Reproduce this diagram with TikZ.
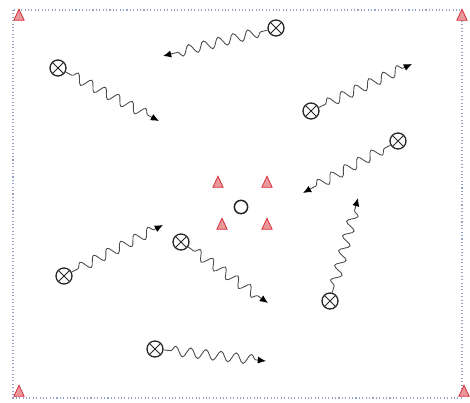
\documentclass[tikz,border=0pt]{standalone}
\usepackage{tikz}
\usetikzlibrary{arrows,arrows.meta,decorations.pathmorphing,shapes.geometric}
\usetikzlibrary{positioning}
\definecolor{conered}{RGB}{215,50,60}
\definecolor{fieldline}{RGB}{150,160,200}
\tikzstyle{player} = [circle, draw=black!85, line width=1.1pt, minimum size=0.48cm, inner sep=0pt, path picture={\draw[black!85, line width=0.8pt] (path picture bounding box.south west) -- (path picture bounding box.north east) (path picture bounding box.north west) -- (path picture bounding box.south east);}]
\tikzstyle{ball} = [circle, draw=black!85, line width=1.3pt, minimum size=0.4cm, inner sep=0pt]
\tikzstyle{cone} = [isosceles triangle, shape border rotate=90, isosceles triangle apex angle=50, draw=conered, fill=conered!50, line width=0.7pt, minimum height=0.33cm, minimum width=0.26cm, inner sep=0pt]
\tikzstyle{dribble} = [draw=black!70, line width=0.75pt, -{Latex[black,length=7pt,width=6pt]}, decorate, decoration={snake, amplitude=4.2pt, segment length=13pt, pre length=6pt, post length=7pt}]

\begin{document}
\begin{tikzpicture}[x=0.03cm, y=-0.03cm]
\useasboundingbox (0,0) rectangle (470,403);

% field
\draw[fieldline, dotted, line width=0.9pt] (13,10) rectangle (462,398);
\node (c1) [cone] at (19,17) {};
\node (c2) [cone] at (462,17) {};
\node (c3) [cone] at (19,393) {};
\node (c4) [cone] at (464,393) {};

% centre
\node (b) [ball] at (241,207) {};
\node (k1) [cone] at (218,184) {};
\node (k2) [cone] at (267,184) {};
\node (k3) [cone] at (222,226) {};
\node (k4) [cone] at (267,226) {};

% players
\node (p1) [player] at (276,28) {};
\node (p2) [player] at (58,68) {};
\node (p3) [player] at (311,111) {};
\node (p4) [player] at (398,141) {};
\node (p5) [player] at (64,276) {};
\node (p6) [player] at (181,242) {};
\node (p7) [player] at (330,301) {};
\node (p8) [player] at (155,349) {};

% runs
\coordinate (e1) at (163,56);
\coordinate (e2) at (159,121);
\coordinate (e3) at (412,64);
\coordinate (e4) at (303,193);
\coordinate (e5) at (163,225);
\coordinate (e6) at (268,303);
\coordinate (e7) at (358,198);
\coordinate (e8) at (266,361);

\draw[dribble] (p1) -- (e1);
\draw[dribble] (p2) -- (e2);
\draw[dribble] (p3) -- (e3);
\draw[dribble] (p4) -- (e4);
\draw[dribble] (p5) -- (e5);
\draw[dribble] (p6) -- (e6);
\draw[dribble] (p7) -- (e7);
\draw[dribble] (p8) -- (e8);
\end{tikzpicture}
\end{document}
